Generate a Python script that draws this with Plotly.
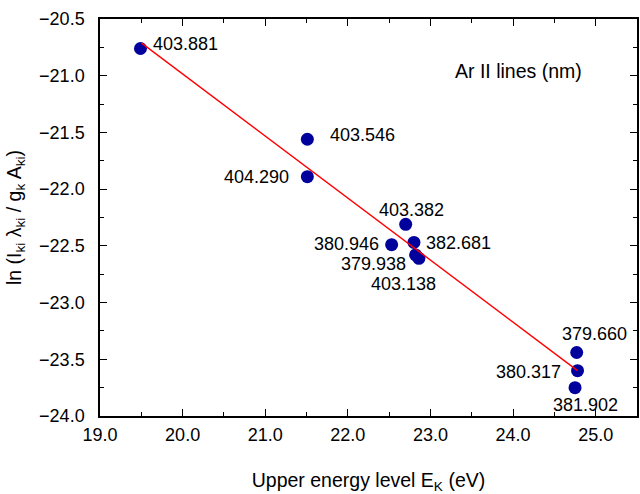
import plotly.graph_objects as go

# Data
wavelengths = ["403.881", "403.546", "404.290", "403.382", "380.946", "382.681",
               "379.938", "403.138", "379.660", "380.317", "381.902"]
energy = [19.49, 21.51, 21.51, 22.70, 22.53, 22.80, 22.82, 22.86, 24.77, 24.78, 24.75]
ln_val = [-20.76, -21.56, -21.89, -22.31, -22.49, -22.47, -22.58, -22.61, -23.44, -23.60, -23.75]

fit_x = [19.50, 24.78]
fit_y = [-20.71, -23.60]

# label placement (pixel offsets, anchor)
label_dx = [11, 21, -16, 6, -11, 10, -42, -15, 18, -15, 10]
label_dy = [4, 4, 0, 14, 1, -1, -9, -26, 18, -1, -17]
label_anchor = ["left", "left", "right", "center", "right", "left",
                "center", "center", "center", "right", "center"]

FONT = "Liberation Sans, Arial, sans-serif"

fig = go.Figure()
fig.add_trace(go.Scatter(x=energy, y=ln_val, mode="markers",
                         marker=dict(size=13, color="#00009C"),
                         showlegend=False, hoverinfo="skip"))
fig.add_trace(go.Scatter(x=fit_x, y=fit_y, mode="lines",
                         line=dict(color="#FF0000", width=1.4),
                         showlegend=False, hoverinfo="skip"))

for lab, ex, yv, dx, dy, anc in zip(wavelengths, energy, ln_val, label_dx, label_dy, label_anchor):
    fig.add_annotation(x=ex, y=yv, text=lab, showarrow=False, xanchor=anc, yanchor="middle",
                       xshift=dx, yshift=dy, font=dict(size=18, color="black", family=FONT))

fig.add_annotation(x=(520 - 100) / 539, y=(418 - 71) / 399, xref="paper", yref="paper",
                   text="Ar II lines (nm)", showarrow=False, xanchor="center", yanchor="middle",
                   font=dict(size=19.5, color="black", family=FONT))

axis_common = dict(showgrid=False, zeroline=False, showline=True, linecolor="black", linewidth=1.5,
                   mirror="allticks", ticks="inside", ticklen=7, tickwidth=1.2, tickcolor="black",
                   tickfont=dict(size=18, color="black", family=FONT))

fig.update_xaxes(range=[19.0, 25.5], dtick=1.0, tick0=19.0, tickformat=".1f",
                 minor=dict(dtick=0.5, ticks="inside", ticklen=4, tickcolor="black", tickwidth=1.2),
                 title=dict(text="Upper energy level E<sub>K</sub> (eV)",
                            font=dict(size=19.5, color="black", family=FONT), standoff=34),
                 ticklabelstandoff=2,
                 **axis_common)
fig.update_yaxes(range=[-24.0, -20.5], dtick=0.5, tick0=-24.0, tickformat=".1f",
                 minor=dict(dtick=0.25, ticks="inside", ticklen=4, tickcolor="black", tickwidth=1.2),
                 title=dict(text="ln (I<sub>ki</sub> λ<sub>ki</sub> / g<sub>k</sub> A<sub>ki</sub>)",
                            font=dict(size=19.5, color="black", family=FONT), standoff=12),
                 ticklabelstandoff=10,
                 **axis_common)

fig.update_layout(width=640, height=494, margin=dict(l=100, r=1, t=19, b=76),
                  plot_bgcolor="white", paper_bgcolor="white",
                  font=dict(family=FONT, color="black"))

fig.write_html("out.html")
